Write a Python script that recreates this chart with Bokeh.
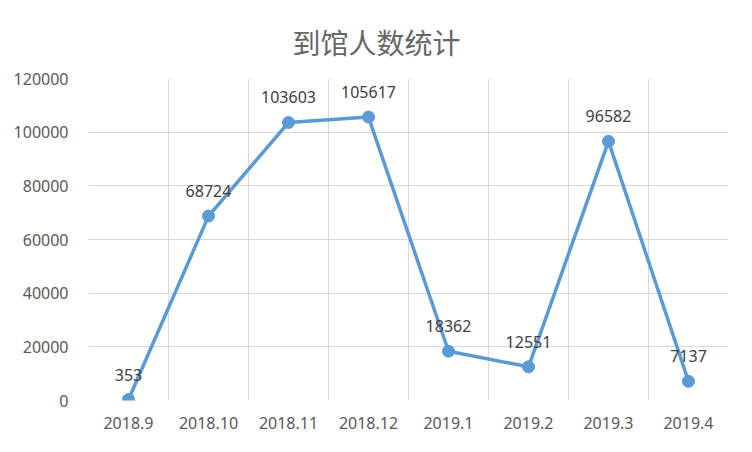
from bokeh.plotting import figure
from bokeh.models import ColumnDataSource, FixedTicker, LabelSet, Title, BasicTickFormatter
from bokeh.core.properties import value
from bokeh.embed import file_html
from bokeh.resources import INLINE

categories = ["2018.9", "2018.10", "2018.11", "2018.12", "2019.1", "2019.2", "2019.3", "2019.4"]
visitors = [353, 68724, 103603, 105617, 18362, 12551, 96582, 7137]
y_ticks = [0, 20000, 40000, 60000, 80000, 100000, 120000]
title_text = "到馆人数统计"

xs = [i + 0.5 for i in range(len(categories))]
src = ColumnDataSource(dict(x=xs, y=visitors, label=[str(v) for v in visitors]))

p = figure(width=736, height=436, output_backend="svg", toolbar_location=None,
           x_range=(0, len(categories)), y_range=(0, 120000),
           min_border_left=88, min_border_right=8, min_border_top=78, min_border_bottom=36)
p.title = None
t = Title(text=title_text, align="left", offset=204, text_font="Noto Sans CJK SC",
          text_font_size="28px", text_font_style="normal", text_color="#666666", standoff=34)
p.add_layout(t, "above")

p.outline_line_color = None
p.background_fill_color = "white"
p.border_fill_color = "white"

# grid
p.xgrid.ticker = FixedTicker(ticks=list(range(len(categories) + 1)))
p.ygrid.ticker = FixedTicker(ticks=y_ticks)
p.xgrid.grid_line_color = "#d9d9d9"
p.ygrid.grid_line_color = "#d9d9d9"
p.xgrid.grid_line_width = 1
p.ygrid.grid_line_width = 1

# axes
p.xaxis.ticker = FixedTicker(ticks=xs)
p.xaxis.major_label_overrides = {x: c for x, c in zip(xs, categories)}
p.yaxis.ticker = FixedTicker(ticks=y_ticks)
p.yaxis.formatter = BasicTickFormatter(use_scientific=False)
for ax in (p.xaxis[0], p.yaxis[0]):
    ax.axis_line_color = None
    ax.major_tick_line_color = None
    ax.minor_tick_line_color = None
    ax.major_label_text_font = "Noto Sans"
    ax.major_label_text_font_size = "16px"
    ax.major_label_text_color = "#595959"
p.xaxis.major_label_standoff = 10
p.yaxis.major_label_standoff = 14

p.line("x", "y", source=src, line_color="#5B9BD5", line_width=3.5)
p.scatter("x", "y", source=src, size=12, fill_color="#5B9BD5", line_color="#5B9BD5")

labels = LabelSet(x="x", y="y", text="label", source=src, y_offset=25,
                  text_align="center", text_baseline="middle",
                  text_font=value("Noto Sans"), text_font_size=value("16px"),
                  text_color="#404040")
p.add_layout(labels)

open("out.html", "w").write(file_html(p, INLINE))
